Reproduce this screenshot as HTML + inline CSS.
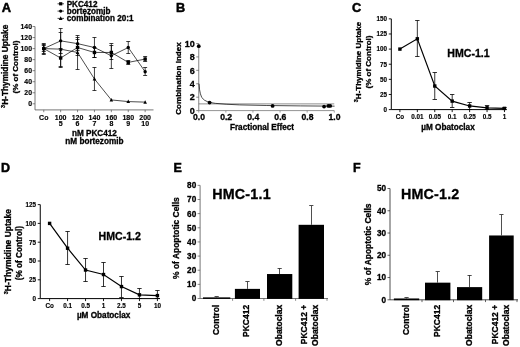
<!DOCTYPE html>
<html><head><meta charset="utf-8"><title>Figure</title>
<style>html,body{margin:0;padding:0;background:#fff;}svg{display:block;}text{font-family:"Liberation Sans", Arial, Helvetica, sans-serif;fill:#000;stroke:#000;stroke-width:0.3px;}</style>
</head><body>
<svg width="520" height="347" viewBox="0 0 520 347">
<rect width="520" height="347" fill="#fff"/>
<text x="1.70" y="11.80" font-size="12.9" text-anchor="start" font-weight="bold" style="stroke-width:0.5px">A</text>
<line x1="35.00" y1="26.52" x2="35.00" y2="109.90" stroke="#555" stroke-width="0.8"/>
<line x1="35.00" y1="109.90" x2="153.50" y2="109.90" stroke="#555" stroke-width="0.8"/>
<line x1="32.50" y1="103.80" x2="35.00" y2="103.80" stroke="#555" stroke-width="0.7"/>
<text x="32.00" y="106.40" font-size="6.9" text-anchor="end" font-weight="bold" style="stroke-width:0.15px">0</text>
<line x1="32.50" y1="92.76" x2="35.00" y2="92.76" stroke="#555" stroke-width="0.7"/>
<text x="32.00" y="95.36" font-size="6.9" text-anchor="end" font-weight="bold" style="stroke-width:0.15px">20</text>
<line x1="32.50" y1="81.72" x2="35.00" y2="81.72" stroke="#555" stroke-width="0.7"/>
<text x="32.00" y="84.32" font-size="6.9" text-anchor="end" font-weight="bold" style="stroke-width:0.15px">40</text>
<line x1="32.50" y1="70.68" x2="35.00" y2="70.68" stroke="#555" stroke-width="0.7"/>
<text x="32.00" y="73.28" font-size="6.9" text-anchor="end" font-weight="bold" style="stroke-width:0.15px">60</text>
<line x1="32.50" y1="59.64" x2="35.00" y2="59.64" stroke="#555" stroke-width="0.7"/>
<text x="32.00" y="62.24" font-size="6.9" text-anchor="end" font-weight="bold" style="stroke-width:0.15px">80</text>
<line x1="32.50" y1="48.60" x2="35.00" y2="48.60" stroke="#555" stroke-width="0.7"/>
<text x="32.00" y="51.20" font-size="6.9" text-anchor="end" font-weight="bold" style="stroke-width:0.15px">100</text>
<line x1="32.50" y1="37.56" x2="35.00" y2="37.56" stroke="#555" stroke-width="0.7"/>
<text x="32.00" y="40.16" font-size="6.9" text-anchor="end" font-weight="bold" style="stroke-width:0.15px">120</text>
<line x1="32.50" y1="26.52" x2="35.00" y2="26.52" stroke="#555" stroke-width="0.7"/>
<text x="32.00" y="29.12" font-size="6.9" text-anchor="end" font-weight="bold" style="stroke-width:0.15px">140</text>
<line x1="43.75" y1="109.90" x2="43.75" y2="112.20" stroke="#555" stroke-width="0.7"/>
<text x="43.75" y="120.00" font-size="7" text-anchor="middle" font-weight="bold" style="stroke-width:0.15px">Co</text>
<line x1="60.65" y1="109.90" x2="60.65" y2="112.20" stroke="#555" stroke-width="0.7"/>
<text x="60.65" y="120.00" font-size="7" text-anchor="middle" font-weight="bold" style="stroke-width:0.15px">100</text>
<text x="60.65" y="126.40" font-size="7" text-anchor="middle" font-weight="bold" style="stroke-width:0.15px">5</text>
<line x1="77.55" y1="109.90" x2="77.55" y2="112.20" stroke="#555" stroke-width="0.7"/>
<text x="77.55" y="120.00" font-size="7" text-anchor="middle" font-weight="bold" style="stroke-width:0.15px">120</text>
<text x="77.55" y="126.40" font-size="7" text-anchor="middle" font-weight="bold" style="stroke-width:0.15px">6</text>
<line x1="94.45" y1="109.90" x2="94.45" y2="112.20" stroke="#555" stroke-width="0.7"/>
<text x="94.45" y="120.00" font-size="7" text-anchor="middle" font-weight="bold" style="stroke-width:0.15px">140</text>
<text x="94.45" y="126.40" font-size="7" text-anchor="middle" font-weight="bold" style="stroke-width:0.15px">7</text>
<line x1="111.35" y1="109.90" x2="111.35" y2="112.20" stroke="#555" stroke-width="0.7"/>
<text x="111.35" y="120.00" font-size="7" text-anchor="middle" font-weight="bold" style="stroke-width:0.15px">160</text>
<text x="111.35" y="126.40" font-size="7" text-anchor="middle" font-weight="bold" style="stroke-width:0.15px">8</text>
<line x1="128.25" y1="109.90" x2="128.25" y2="112.20" stroke="#555" stroke-width="0.7"/>
<text x="128.25" y="120.00" font-size="7" text-anchor="middle" font-weight="bold" style="stroke-width:0.15px">180</text>
<text x="128.25" y="126.40" font-size="7" text-anchor="middle" font-weight="bold" style="stroke-width:0.15px">9</text>
<line x1="145.15" y1="109.90" x2="145.15" y2="112.20" stroke="#555" stroke-width="0.7"/>
<text x="145.15" y="120.00" font-size="7" text-anchor="middle" font-weight="bold" style="stroke-width:0.15px">200</text>
<text x="145.15" y="126.40" font-size="7" text-anchor="middle" font-weight="bold" style="stroke-width:0.15px">10</text>
<text x="94.40" y="136.20" font-size="8.2" text-anchor="middle" font-weight="bold">nM PKC412</text>
<text x="94.40" y="144.20" font-size="8.2" text-anchor="middle" font-weight="bold">nM bortezomib</text>
<text x="7.60" y="66.30" font-size="8.3" text-anchor="middle" font-weight="bold" transform="rotate(-90 7.60 66.30)"><tspan font-size="5.5" dy="-2.5">3</tspan><tspan dy="2.5">H-Thymidine Uptake</tspan></text>
<text x="17.50" y="67.00" font-size="8" text-anchor="middle" font-weight="bold" transform="rotate(-90 17.50 67.00)">(% of Control)</text>
<line x1="57.50" y1="3.80" x2="64.00" y2="3.80" stroke="#000" stroke-width="0.7"/>
<rect x="59.10" y="2.20" width="3.20" height="3.20" fill="#000"/>
<text x="66.70" y="6.70" font-size="8.15" text-anchor="start" font-weight="bold">PKC412</text>
<line x1="57.50" y1="11.10" x2="64.00" y2="11.10" stroke="#000" stroke-width="0.7"/>
<circle cx="60.70" cy="11.10" r="1.60" fill="#000"/>
<text x="66.70" y="14.00" font-size="8.15" text-anchor="start" font-weight="bold">bortezomib</text>
<line x1="57.50" y1="18.40" x2="64.00" y2="18.40" stroke="#000" stroke-width="0.7"/>
<polygon points="60.70,16.30 58.80,20.00 62.60,20.00" fill="#000"/>
<text x="66.70" y="21.30" font-size="8.15" text-anchor="start" font-weight="bold">combination 20:1</text>
<polyline fill="none" stroke="#000" stroke-width="0.7" points="43.75,48.60 60.65,57.98 77.55,47.50 94.45,52.46 111.35,52.46 128.25,62.40 145.15,59.09"/>
<line x1="43.75" y1="44.50" x2="43.75" y2="53.50" stroke="#000" stroke-width="0.75"/>
<line x1="41.75" y1="44.50" x2="45.75" y2="44.50" stroke="#000" stroke-width="0.75"/>
<line x1="41.75" y1="53.50" x2="45.75" y2="53.50" stroke="#000" stroke-width="0.75"/>
<rect x="42.05" y="46.90" width="3.40" height="3.40" fill="#000"/>
<line x1="60.65" y1="48.50" x2="60.65" y2="67.50" stroke="#000" stroke-width="0.75"/>
<line x1="58.65" y1="48.50" x2="62.65" y2="48.50" stroke="#000" stroke-width="0.75"/>
<line x1="58.65" y1="67.50" x2="62.65" y2="67.50" stroke="#000" stroke-width="0.75"/>
<rect x="58.95" y="56.28" width="3.40" height="3.40" fill="#000"/>
<line x1="77.55" y1="39.50" x2="77.55" y2="55.50" stroke="#000" stroke-width="0.75"/>
<line x1="75.55" y1="39.50" x2="79.55" y2="39.50" stroke="#000" stroke-width="0.75"/>
<line x1="75.55" y1="55.50" x2="79.55" y2="55.50" stroke="#000" stroke-width="0.75"/>
<rect x="75.85" y="45.80" width="3.40" height="3.40" fill="#000"/>
<line x1="94.45" y1="47.50" x2="94.45" y2="57.50" stroke="#000" stroke-width="0.75"/>
<line x1="92.45" y1="47.50" x2="96.45" y2="47.50" stroke="#000" stroke-width="0.75"/>
<line x1="92.45" y1="57.50" x2="96.45" y2="57.50" stroke="#000" stroke-width="0.75"/>
<rect x="92.75" y="50.76" width="3.40" height="3.40" fill="#000"/>
<line x1="111.35" y1="45.50" x2="111.35" y2="59.50" stroke="#000" stroke-width="0.75"/>
<line x1="109.35" y1="45.50" x2="113.35" y2="45.50" stroke="#000" stroke-width="0.75"/>
<line x1="109.35" y1="59.50" x2="113.35" y2="59.50" stroke="#000" stroke-width="0.75"/>
<rect x="109.65" y="50.76" width="3.40" height="3.40" fill="#000"/>
<line x1="128.25" y1="60.50" x2="128.25" y2="64.50" stroke="#000" stroke-width="0.75"/>
<line x1="126.25" y1="60.50" x2="130.25" y2="60.50" stroke="#000" stroke-width="0.75"/>
<line x1="126.25" y1="64.50" x2="130.25" y2="64.50" stroke="#000" stroke-width="0.75"/>
<rect x="126.55" y="60.70" width="3.40" height="3.40" fill="#000"/>
<line x1="145.15" y1="56.50" x2="145.15" y2="61.50" stroke="#000" stroke-width="0.75"/>
<line x1="143.15" y1="56.50" x2="147.15" y2="56.50" stroke="#000" stroke-width="0.75"/>
<line x1="143.15" y1="61.50" x2="147.15" y2="61.50" stroke="#000" stroke-width="0.75"/>
<rect x="143.45" y="57.39" width="3.40" height="3.40" fill="#000"/>
<polyline fill="none" stroke="#000" stroke-width="0.7" points="43.75,48.60 60.65,40.87 77.55,43.63 94.45,47.50 111.35,55.78 128.25,47.50 145.15,71.78"/>
<line x1="43.75" y1="43.50" x2="43.75" y2="54.50" stroke="#000" stroke-width="0.75"/>
<line x1="41.75" y1="43.50" x2="45.75" y2="43.50" stroke="#000" stroke-width="0.75"/>
<line x1="41.75" y1="54.50" x2="45.75" y2="54.50" stroke="#000" stroke-width="0.75"/>
<circle cx="43.75" cy="48.60" r="1.70" fill="#000"/>
<line x1="60.65" y1="28.50" x2="60.65" y2="53.50" stroke="#000" stroke-width="0.75"/>
<line x1="58.65" y1="28.50" x2="62.65" y2="28.50" stroke="#000" stroke-width="0.75"/>
<line x1="58.65" y1="53.50" x2="62.65" y2="53.50" stroke="#000" stroke-width="0.75"/>
<circle cx="60.65" cy="40.87" r="1.70" fill="#000"/>
<line x1="77.55" y1="37.50" x2="77.55" y2="50.50" stroke="#000" stroke-width="0.75"/>
<line x1="75.55" y1="37.50" x2="79.55" y2="37.50" stroke="#000" stroke-width="0.75"/>
<line x1="75.55" y1="50.50" x2="79.55" y2="50.50" stroke="#000" stroke-width="0.75"/>
<circle cx="77.55" cy="43.63" r="1.70" fill="#000"/>
<line x1="94.45" y1="37.50" x2="94.45" y2="57.50" stroke="#000" stroke-width="0.75"/>
<line x1="92.45" y1="37.50" x2="96.45" y2="37.50" stroke="#000" stroke-width="0.75"/>
<line x1="92.45" y1="57.50" x2="96.45" y2="57.50" stroke="#000" stroke-width="0.75"/>
<circle cx="94.45" cy="47.50" r="1.70" fill="#000"/>
<line x1="111.35" y1="43.50" x2="111.35" y2="68.50" stroke="#000" stroke-width="0.75"/>
<line x1="109.35" y1="43.50" x2="113.35" y2="43.50" stroke="#000" stroke-width="0.75"/>
<line x1="109.35" y1="68.50" x2="113.35" y2="68.50" stroke="#000" stroke-width="0.75"/>
<circle cx="111.35" cy="55.78" r="1.70" fill="#000"/>
<line x1="128.25" y1="41.50" x2="128.25" y2="53.50" stroke="#000" stroke-width="0.75"/>
<line x1="126.25" y1="41.50" x2="130.25" y2="41.50" stroke="#000" stroke-width="0.75"/>
<line x1="126.25" y1="53.50" x2="130.25" y2="53.50" stroke="#000" stroke-width="0.75"/>
<circle cx="128.25" cy="47.50" r="1.70" fill="#000"/>
<line x1="145.15" y1="67.50" x2="145.15" y2="75.50" stroke="#000" stroke-width="0.75"/>
<line x1="143.15" y1="67.50" x2="147.15" y2="67.50" stroke="#000" stroke-width="0.75"/>
<line x1="143.15" y1="75.50" x2="147.15" y2="75.50" stroke="#000" stroke-width="0.75"/>
<circle cx="145.15" cy="71.78" r="1.70" fill="#000"/>
<polyline fill="none" stroke="#000" stroke-width="0.7" points="43.75,48.60 60.65,49.15 77.55,52.46 94.45,78.96 111.35,99.94 128.25,101.59 145.15,102.14"/>
<line x1="43.75" y1="45.50" x2="43.75" y2="51.50" stroke="#000" stroke-width="0.75"/>
<line x1="41.75" y1="45.50" x2="45.75" y2="45.50" stroke="#000" stroke-width="0.75"/>
<line x1="41.75" y1="51.50" x2="45.75" y2="51.50" stroke="#000" stroke-width="0.75"/>
<polygon points="43.75,46.60 41.95,50.10 45.55,50.10" fill="#000"/>
<line x1="60.65" y1="32.50" x2="60.65" y2="66.50" stroke="#000" stroke-width="0.75"/>
<line x1="58.65" y1="32.50" x2="62.65" y2="32.50" stroke="#000" stroke-width="0.75"/>
<line x1="58.65" y1="66.50" x2="62.65" y2="66.50" stroke="#000" stroke-width="0.75"/>
<polygon points="60.65,47.15 58.85,50.65 62.45,50.65" fill="#000"/>
<line x1="77.55" y1="35.50" x2="77.55" y2="69.50" stroke="#000" stroke-width="0.75"/>
<line x1="75.55" y1="35.50" x2="79.55" y2="35.50" stroke="#000" stroke-width="0.75"/>
<line x1="75.55" y1="69.50" x2="79.55" y2="69.50" stroke="#000" stroke-width="0.75"/>
<polygon points="77.55,50.46 75.75,53.96 79.35,53.96" fill="#000"/>
<line x1="94.45" y1="67.50" x2="94.45" y2="90.50" stroke="#000" stroke-width="0.75"/>
<line x1="92.45" y1="67.50" x2="96.45" y2="67.50" stroke="#000" stroke-width="0.75"/>
<line x1="92.45" y1="90.50" x2="96.45" y2="90.50" stroke="#000" stroke-width="0.75"/>
<polygon points="94.45,76.96 92.65,80.46 96.25,80.46" fill="#000"/>
<polygon points="111.35,97.94 109.55,101.44 113.15,101.44" fill="#000"/>
<polygon points="128.25,99.59 126.45,103.09 130.05,103.09" fill="#000"/>
<polygon points="145.15,100.14 143.35,103.64 146.95,103.64" fill="#000"/>
<text x="176.00" y="11.80" font-size="12.7" text-anchor="start" font-weight="bold" style="stroke-width:0.5px">B</text>
<line x1="198.75" y1="43.50" x2="198.75" y2="110.60" stroke="#666" stroke-width="0.8"/>
<line x1="198.75" y1="110.60" x2="334.25" y2="110.60" stroke="#777" stroke-width="0.8"/>
<line x1="196.25" y1="110.60" x2="198.75" y2="110.60" stroke="#555" stroke-width="0.7"/>
<text x="194.75" y="113.80" font-size="9" text-anchor="end" font-weight="bold">0</text>
<line x1="196.25" y1="97.18" x2="198.75" y2="97.18" stroke="#555" stroke-width="0.7"/>
<text x="194.75" y="100.38" font-size="9" text-anchor="end" font-weight="bold">2</text>
<line x1="196.25" y1="83.76" x2="198.75" y2="83.76" stroke="#555" stroke-width="0.7"/>
<text x="194.75" y="86.96" font-size="9" text-anchor="end" font-weight="bold">4</text>
<line x1="196.25" y1="70.34" x2="198.75" y2="70.34" stroke="#555" stroke-width="0.7"/>
<text x="194.75" y="73.54" font-size="9" text-anchor="end" font-weight="bold">6</text>
<line x1="196.25" y1="56.92" x2="198.75" y2="56.92" stroke="#555" stroke-width="0.7"/>
<text x="194.75" y="60.12" font-size="9" text-anchor="end" font-weight="bold">8</text>
<line x1="196.25" y1="43.50" x2="198.75" y2="43.50" stroke="#555" stroke-width="0.7"/>
<text x="194.75" y="46.70" font-size="9" text-anchor="end" font-weight="bold">10</text>
<line x1="198.75" y1="110.60" x2="198.75" y2="112.60" stroke="#777" stroke-width="0.7"/>
<text x="199.05" y="120.20" font-size="8.6" text-anchor="middle" font-weight="bold">0.0</text>
<line x1="225.85" y1="110.60" x2="225.85" y2="112.60" stroke="#777" stroke-width="0.7"/>
<text x="226.15" y="120.20" font-size="8.6" text-anchor="middle" font-weight="bold">0.2</text>
<line x1="252.95" y1="110.60" x2="252.95" y2="112.60" stroke="#777" stroke-width="0.7"/>
<text x="253.25" y="120.20" font-size="8.6" text-anchor="middle" font-weight="bold">0.4</text>
<line x1="280.05" y1="110.60" x2="280.05" y2="112.60" stroke="#777" stroke-width="0.7"/>
<text x="280.35" y="120.20" font-size="8.6" text-anchor="middle" font-weight="bold">0.6</text>
<line x1="307.15" y1="110.60" x2="307.15" y2="112.60" stroke="#777" stroke-width="0.7"/>
<text x="307.45" y="120.20" font-size="8.6" text-anchor="middle" font-weight="bold">0.8</text>
<line x1="334.25" y1="110.60" x2="334.25" y2="112.60" stroke="#777" stroke-width="0.7"/>
<text x="334.55" y="120.20" font-size="8.6" text-anchor="middle" font-weight="bold">1.0</text>
<text x="262.00" y="130.00" font-size="8.2" text-anchor="middle" font-weight="bold">Fractional Effect</text>
<text x="181.00" y="78.50" font-size="8.05" text-anchor="middle" font-weight="bold" transform="rotate(-90 181.00 78.50)">Combination Index</text>
<line x1="198.75" y1="103.89" x2="334.25" y2="103.89" stroke="#444" stroke-width="0.6"/>
<polyline fill="none" stroke="#000" stroke-width="0.7" points="199.05,83.76 199.59,89.80 200.41,93.82 201.76,97.52 204.47,100.20 207.18,101.54 209.89,102.41 215.31,103.35 226.15,104.23 239.70,104.90 266.80,105.50 300.68,105.90 334.55,106.17"/>
<circle cx="198.75" cy="46.18" r="1.90" fill="#000"/>
<circle cx="209.59" cy="102.55" r="1.90" fill="#000"/>
<circle cx="272.60" cy="105.90" r="1.90" fill="#000"/>
<circle cx="324.09" cy="106.57" r="1.90" fill="#000"/>
<circle cx="328.29" cy="105.90" r="1.90" fill="#000"/>
<circle cx="330.19" cy="105.90" r="1.90" fill="#000"/>
<text x="352.00" y="11.80" font-size="12.7" text-anchor="start" font-weight="bold" style="stroke-width:0.5px">C</text>
<line x1="391.30" y1="18.85" x2="391.30" y2="109.60" stroke="#000" stroke-width="1"/>
<line x1="391.30" y1="109.60" x2="506.50" y2="109.60" stroke="#000" stroke-width="1"/>
<line x1="388.80" y1="109.60" x2="391.30" y2="109.60" stroke="#000" stroke-width="0.9"/>
<text x="387.00" y="111.90" font-size="6.3" text-anchor="end" font-weight="bold" style="stroke-width:0.15px">0</text>
<line x1="388.80" y1="94.47" x2="391.30" y2="94.47" stroke="#000" stroke-width="0.9"/>
<text x="387.00" y="96.77" font-size="6.3" text-anchor="end" font-weight="bold" style="stroke-width:0.15px">25</text>
<line x1="388.80" y1="79.35" x2="391.30" y2="79.35" stroke="#000" stroke-width="0.9"/>
<text x="387.00" y="81.65" font-size="6.3" text-anchor="end" font-weight="bold" style="stroke-width:0.15px">50</text>
<line x1="388.80" y1="64.22" x2="391.30" y2="64.22" stroke="#000" stroke-width="0.9"/>
<text x="387.00" y="66.52" font-size="6.3" text-anchor="end" font-weight="bold" style="stroke-width:0.15px">75</text>
<line x1="388.80" y1="49.10" x2="391.30" y2="49.10" stroke="#000" stroke-width="0.9"/>
<text x="387.00" y="51.40" font-size="6.3" text-anchor="end" font-weight="bold" style="stroke-width:0.15px">100</text>
<line x1="388.80" y1="33.97" x2="391.30" y2="33.97" stroke="#000" stroke-width="0.9"/>
<text x="387.00" y="36.27" font-size="6.3" text-anchor="end" font-weight="bold" style="stroke-width:0.15px">125</text>
<line x1="388.80" y1="18.85" x2="391.30" y2="18.85" stroke="#000" stroke-width="0.9"/>
<text x="387.00" y="21.15" font-size="6.3" text-anchor="end" font-weight="bold" style="stroke-width:0.15px">150</text>
<line x1="399.90" y1="109.60" x2="399.90" y2="112.10" stroke="#000" stroke-width="0.9"/>
<text x="399.90" y="119.40" font-size="6.3" text-anchor="middle" font-weight="bold" style="stroke-width:0.15px">Co</text>
<line x1="417.33" y1="109.60" x2="417.33" y2="112.10" stroke="#000" stroke-width="0.9"/>
<text x="417.33" y="119.40" font-size="6.3" text-anchor="middle" font-weight="bold" style="stroke-width:0.15px">0.01</text>
<line x1="434.76" y1="109.60" x2="434.76" y2="112.10" stroke="#000" stroke-width="0.9"/>
<text x="434.76" y="119.40" font-size="6.3" text-anchor="middle" font-weight="bold" style="stroke-width:0.15px">0.05</text>
<line x1="452.19" y1="109.60" x2="452.19" y2="112.10" stroke="#000" stroke-width="0.9"/>
<text x="452.19" y="119.40" font-size="6.3" text-anchor="middle" font-weight="bold" style="stroke-width:0.15px">0.1</text>
<line x1="469.62" y1="109.60" x2="469.62" y2="112.10" stroke="#000" stroke-width="0.9"/>
<text x="469.62" y="119.40" font-size="6.3" text-anchor="middle" font-weight="bold" style="stroke-width:0.15px">0.25</text>
<line x1="487.05" y1="109.60" x2="487.05" y2="112.10" stroke="#000" stroke-width="0.9"/>
<text x="487.05" y="119.40" font-size="6.3" text-anchor="middle" font-weight="bold" style="stroke-width:0.15px">0.5</text>
<line x1="504.48" y1="109.60" x2="504.48" y2="112.10" stroke="#000" stroke-width="0.9"/>
<text x="504.48" y="119.40" font-size="6.3" text-anchor="middle" font-weight="bold" style="stroke-width:0.15px">1</text>
<text x="448.00" y="130.00" font-size="8.2" text-anchor="middle" font-weight="bold">µM Obatoclax</text>
<text x="360.50" y="62.00" font-size="8" text-anchor="middle" font-weight="bold" transform="rotate(-90 360.50 62.00)"><tspan font-size="5.5" dy="-2.5">3</tspan><tspan dy="2.5">H-Thymidine Uptake</tspan></text>
<text x="370.50" y="62.00" font-size="8" text-anchor="middle" font-weight="bold" transform="rotate(-90 370.50 62.00)">(% of Control)</text>
<text x="468.50" y="57.20" font-size="10.6" text-anchor="middle" font-weight="bold">HMC-1.1</text>
<polyline fill="none" stroke="#000" stroke-width="1.2" points="399.90,49.10 417.33,38.81 434.76,86.00 452.19,101.13 469.62,105.97 487.05,107.78 504.48,108.39"/>
<rect x="398.20" y="47.40" width="3.40" height="3.40" fill="#000"/>
<line x1="417.33" y1="20.50" x2="417.33" y2="56.50" stroke="#000" stroke-width="0.8"/>
<line x1="415.13" y1="20.50" x2="419.53" y2="20.50" stroke="#000" stroke-width="0.8"/>
<line x1="415.13" y1="56.50" x2="419.53" y2="56.50" stroke="#000" stroke-width="0.8"/>
<rect x="415.63" y="37.11" width="3.40" height="3.40" fill="#000"/>
<line x1="434.76" y1="72.50" x2="434.76" y2="99.50" stroke="#000" stroke-width="0.8"/>
<line x1="432.56" y1="72.50" x2="436.96" y2="72.50" stroke="#000" stroke-width="0.8"/>
<line x1="432.56" y1="99.50" x2="436.96" y2="99.50" stroke="#000" stroke-width="0.8"/>
<rect x="433.06" y="84.30" width="3.40" height="3.40" fill="#000"/>
<line x1="452.19" y1="94.50" x2="452.19" y2="107.50" stroke="#000" stroke-width="0.8"/>
<line x1="449.99" y1="94.50" x2="454.39" y2="94.50" stroke="#000" stroke-width="0.8"/>
<line x1="449.99" y1="107.50" x2="454.39" y2="107.50" stroke="#000" stroke-width="0.8"/>
<rect x="450.49" y="99.43" width="3.40" height="3.40" fill="#000"/>
<line x1="469.62" y1="102.50" x2="469.62" y2="109.50" stroke="#000" stroke-width="0.8"/>
<line x1="467.42" y1="102.50" x2="471.82" y2="102.50" stroke="#000" stroke-width="0.8"/>
<line x1="467.42" y1="109.50" x2="471.82" y2="109.50" stroke="#000" stroke-width="0.8"/>
<rect x="467.92" y="104.27" width="3.40" height="3.40" fill="#000"/>
<line x1="487.05" y1="105.50" x2="487.05" y2="109.50" stroke="#000" stroke-width="0.8"/>
<line x1="484.85" y1="105.50" x2="489.25" y2="105.50" stroke="#000" stroke-width="0.8"/>
<line x1="484.85" y1="109.50" x2="489.25" y2="109.50" stroke="#000" stroke-width="0.8"/>
<rect x="485.35" y="106.08" width="3.40" height="3.40" fill="#000"/>
<line x1="504.48" y1="107.50" x2="504.48" y2="109.50" stroke="#000" stroke-width="0.8"/>
<line x1="502.28" y1="107.50" x2="506.68" y2="107.50" stroke="#000" stroke-width="0.8"/>
<line x1="502.28" y1="109.50" x2="506.68" y2="109.50" stroke="#000" stroke-width="0.8"/>
<rect x="502.78" y="106.69" width="3.40" height="3.40" fill="#000"/>
<text x="1.00" y="171.70" font-size="12.5" text-anchor="start" font-weight="bold" style="stroke-width:0.5px">D</text>
<line x1="40.25" y1="204.60" x2="40.25" y2="298.60" stroke="#000" stroke-width="1"/>
<line x1="40.25" y1="298.60" x2="160.00" y2="298.60" stroke="#000" stroke-width="1"/>
<line x1="37.75" y1="298.60" x2="40.25" y2="298.60" stroke="#000" stroke-width="0.9"/>
<text x="36.05" y="300.90" font-size="6.3" text-anchor="end" font-weight="bold" style="stroke-width:0.15px">0</text>
<line x1="37.75" y1="279.80" x2="40.25" y2="279.80" stroke="#000" stroke-width="0.9"/>
<text x="36.05" y="282.10" font-size="6.3" text-anchor="end" font-weight="bold" style="stroke-width:0.15px">25</text>
<line x1="37.75" y1="261.00" x2="40.25" y2="261.00" stroke="#000" stroke-width="0.9"/>
<text x="36.05" y="263.30" font-size="6.3" text-anchor="end" font-weight="bold" style="stroke-width:0.15px">50</text>
<line x1="37.75" y1="242.20" x2="40.25" y2="242.20" stroke="#000" stroke-width="0.9"/>
<text x="36.05" y="244.50" font-size="6.3" text-anchor="end" font-weight="bold" style="stroke-width:0.15px">75</text>
<line x1="37.75" y1="223.40" x2="40.25" y2="223.40" stroke="#000" stroke-width="0.9"/>
<text x="36.05" y="225.70" font-size="6.3" text-anchor="end" font-weight="bold" style="stroke-width:0.15px">100</text>
<line x1="37.75" y1="204.60" x2="40.25" y2="204.60" stroke="#000" stroke-width="0.9"/>
<text x="36.05" y="206.90" font-size="6.3" text-anchor="end" font-weight="bold" style="stroke-width:0.15px">125</text>
<line x1="49.60" y1="298.60" x2="49.60" y2="301.10" stroke="#000" stroke-width="0.9"/>
<text x="49.60" y="308.40" font-size="6.3" text-anchor="middle" font-weight="bold" style="stroke-width:0.15px">Co</text>
<line x1="67.57" y1="298.60" x2="67.57" y2="301.10" stroke="#000" stroke-width="0.9"/>
<text x="67.57" y="308.40" font-size="6.3" text-anchor="middle" font-weight="bold" style="stroke-width:0.15px">0.1</text>
<line x1="85.54" y1="298.60" x2="85.54" y2="301.10" stroke="#000" stroke-width="0.9"/>
<text x="85.54" y="308.40" font-size="6.3" text-anchor="middle" font-weight="bold" style="stroke-width:0.15px">0.5</text>
<line x1="103.51" y1="298.60" x2="103.51" y2="301.10" stroke="#000" stroke-width="0.9"/>
<text x="103.51" y="308.40" font-size="6.3" text-anchor="middle" font-weight="bold" style="stroke-width:0.15px">1</text>
<line x1="121.48" y1="298.60" x2="121.48" y2="301.10" stroke="#000" stroke-width="0.9"/>
<text x="121.48" y="308.40" font-size="6.3" text-anchor="middle" font-weight="bold" style="stroke-width:0.15px">2.5</text>
<line x1="139.45" y1="298.60" x2="139.45" y2="301.10" stroke="#000" stroke-width="0.9"/>
<text x="139.45" y="308.40" font-size="6.3" text-anchor="middle" font-weight="bold" style="stroke-width:0.15px">5</text>
<line x1="157.42" y1="298.60" x2="157.42" y2="301.10" stroke="#000" stroke-width="0.9"/>
<text x="157.42" y="308.40" font-size="6.3" text-anchor="middle" font-weight="bold" style="stroke-width:0.15px">10</text>
<text x="103.60" y="318.40" font-size="8.2" text-anchor="middle" font-weight="bold">µM Obatoclax</text>
<text x="10.90" y="251.60" font-size="8.5" text-anchor="middle" font-weight="bold" transform="rotate(-90 10.90 251.60)"><tspan font-size="5.5" dy="-2.5">3</tspan><tspan dy="2.5">H-Thymidine Uptake</tspan></text>
<text x="22.00" y="253.10" font-size="8.2" text-anchor="middle" font-weight="bold" transform="rotate(-90 22.00 253.10)">(% of Control)</text>
<text x="119.70" y="240.20" font-size="10.6" text-anchor="middle" font-weight="bold">HMC-1.2</text>
<polyline fill="none" stroke="#000" stroke-width="1.2" points="49.60,223.40 67.57,248.22 85.54,270.02 103.51,274.54 121.48,286.57 139.45,294.84 157.42,295.59"/>
<rect x="47.90" y="221.70" width="3.40" height="3.40" fill="#000"/>
<line x1="67.57" y1="231.50" x2="67.57" y2="264.50" stroke="#000" stroke-width="0.8"/>
<line x1="65.37" y1="231.50" x2="69.77" y2="231.50" stroke="#000" stroke-width="0.8"/>
<line x1="65.37" y1="264.50" x2="69.77" y2="264.50" stroke="#000" stroke-width="0.8"/>
<rect x="65.87" y="246.52" width="3.40" height="3.40" fill="#000"/>
<line x1="85.54" y1="258.50" x2="85.54" y2="281.50" stroke="#000" stroke-width="0.8"/>
<line x1="83.34" y1="258.50" x2="87.74" y2="258.50" stroke="#000" stroke-width="0.8"/>
<line x1="83.34" y1="281.50" x2="87.74" y2="281.50" stroke="#000" stroke-width="0.8"/>
<rect x="83.84" y="268.32" width="3.40" height="3.40" fill="#000"/>
<line x1="103.51" y1="262.50" x2="103.51" y2="286.50" stroke="#000" stroke-width="0.8"/>
<line x1="101.31" y1="262.50" x2="105.71" y2="262.50" stroke="#000" stroke-width="0.8"/>
<line x1="101.31" y1="286.50" x2="105.71" y2="286.50" stroke="#000" stroke-width="0.8"/>
<rect x="101.81" y="272.84" width="3.40" height="3.40" fill="#000"/>
<line x1="121.48" y1="276.50" x2="121.48" y2="297.50" stroke="#000" stroke-width="0.8"/>
<line x1="119.28" y1="276.50" x2="123.68" y2="276.50" stroke="#000" stroke-width="0.8"/>
<line x1="119.28" y1="297.50" x2="123.68" y2="297.50" stroke="#000" stroke-width="0.8"/>
<rect x="119.78" y="284.87" width="3.40" height="3.40" fill="#000"/>
<line x1="139.45" y1="288.50" x2="139.45" y2="298.50" stroke="#000" stroke-width="0.8"/>
<line x1="137.25" y1="288.50" x2="141.65" y2="288.50" stroke="#000" stroke-width="0.8"/>
<line x1="137.25" y1="298.50" x2="141.65" y2="298.50" stroke="#000" stroke-width="0.8"/>
<rect x="137.75" y="293.14" width="3.40" height="3.40" fill="#000"/>
<line x1="157.42" y1="290.50" x2="157.42" y2="298.50" stroke="#000" stroke-width="0.8"/>
<line x1="155.22" y1="290.50" x2="159.62" y2="290.50" stroke="#000" stroke-width="0.8"/>
<line x1="155.22" y1="298.50" x2="159.62" y2="298.50" stroke="#000" stroke-width="0.8"/>
<rect x="155.72" y="293.89" width="3.40" height="3.40" fill="#000"/>
<text x="173.60" y="171.80" font-size="12.5" text-anchor="start" font-weight="bold" style="stroke-width:0.5px">E</text>
<line x1="200.10" y1="185.36" x2="200.10" y2="298.50" stroke="#555" stroke-width="0.8"/>
<line x1="200.10" y1="298.50" x2="328.00" y2="298.50" stroke="#555" stroke-width="0.8"/>
<line x1="197.60" y1="298.50" x2="200.10" y2="298.50" stroke="#555" stroke-width="0.7"/>
<text x="196.20" y="301.40" font-size="8.2" text-anchor="end" font-weight="bold">0</text>
<line x1="197.60" y1="284.36" x2="200.10" y2="284.36" stroke="#555" stroke-width="0.7"/>
<text x="196.20" y="287.26" font-size="8.2" text-anchor="end" font-weight="bold">10</text>
<line x1="197.60" y1="270.21" x2="200.10" y2="270.21" stroke="#555" stroke-width="0.7"/>
<text x="196.20" y="273.11" font-size="8.2" text-anchor="end" font-weight="bold">20</text>
<line x1="197.60" y1="256.07" x2="200.10" y2="256.07" stroke="#555" stroke-width="0.7"/>
<text x="196.20" y="258.97" font-size="8.2" text-anchor="end" font-weight="bold">30</text>
<line x1="197.60" y1="241.93" x2="200.10" y2="241.93" stroke="#555" stroke-width="0.7"/>
<text x="196.20" y="244.83" font-size="8.2" text-anchor="end" font-weight="bold">40</text>
<line x1="197.60" y1="227.79" x2="200.10" y2="227.79" stroke="#555" stroke-width="0.7"/>
<text x="196.20" y="230.69" font-size="8.2" text-anchor="end" font-weight="bold">50</text>
<line x1="197.60" y1="213.64" x2="200.10" y2="213.64" stroke="#555" stroke-width="0.7"/>
<text x="196.20" y="216.54" font-size="8.2" text-anchor="end" font-weight="bold">60</text>
<line x1="197.60" y1="199.50" x2="200.10" y2="199.50" stroke="#555" stroke-width="0.7"/>
<text x="196.20" y="202.40" font-size="8.2" text-anchor="end" font-weight="bold">70</text>
<line x1="197.60" y1="185.36" x2="200.10" y2="185.36" stroke="#555" stroke-width="0.7"/>
<text x="196.20" y="188.26" font-size="8.2" text-anchor="end" font-weight="bold">80</text>
<line x1="232.60" y1="298.50" x2="232.60" y2="300.80" stroke="#555" stroke-width="0.7"/>
<line x1="263.90" y1="298.50" x2="263.90" y2="300.80" stroke="#555" stroke-width="0.7"/>
<line x1="295.60" y1="298.50" x2="295.60" y2="300.80" stroke="#555" stroke-width="0.7"/>
<line x1="327.00" y1="298.50" x2="327.00" y2="300.80" stroke="#555" stroke-width="0.7"/>
<rect x="203.00" y="297.37" width="27.30" height="1.53" fill="#000"/>
<line x1="216.50" y1="296.94" x2="216.50" y2="297.37" stroke="#222" stroke-width="0.8"/>
<line x1="214.55" y1="296.50" x2="218.75" y2="296.50" stroke="#222" stroke-width="0.8"/>
<text x="219.35" y="304.80" font-size="8.5" text-anchor="end" font-weight="bold" transform="rotate(-90 219.35 304.80)">Control</text>
<rect x="234.90" y="288.88" width="25.10" height="10.02" fill="#000"/>
<line x1="247.50" y1="281.81" x2="247.50" y2="288.88" stroke="#222" stroke-width="0.8"/>
<line x1="245.35" y1="281.50" x2="249.55" y2="281.50" stroke="#222" stroke-width="0.8"/>
<text x="249.15" y="304.80" font-size="8.5" text-anchor="end" font-weight="bold" transform="rotate(-90 249.15 304.80)">PKC412</text>
<rect x="267.00" y="274.03" width="25.30" height="24.87" fill="#000"/>
<line x1="279.50" y1="268.38" x2="279.50" y2="274.03" stroke="#222" stroke-width="0.8"/>
<line x1="277.55" y1="268.50" x2="281.75" y2="268.50" stroke="#222" stroke-width="0.8"/>
<text x="281.75" y="304.80" font-size="8.5" text-anchor="end" font-weight="bold" transform="rotate(-90 281.75 304.80)">Obatoclax</text>
<rect x="298.60" y="224.81" width="25.40" height="74.09" fill="#000"/>
<line x1="311.50" y1="205.86" x2="311.50" y2="224.81" stroke="#222" stroke-width="0.8"/>
<line x1="309.20" y1="205.50" x2="313.40" y2="205.50" stroke="#222" stroke-width="0.8"/>
<text x="307.10" y="304.80" font-size="8.5" text-anchor="end" font-weight="bold" transform="rotate(-90 307.10 304.80)">PKC412 +</text>
<text x="317.90" y="304.80" font-size="8.5" text-anchor="end" font-weight="bold" transform="rotate(-90 317.90 304.80)">Obatoclax</text>
<text x="241.50" y="199.10" font-size="14.3" text-anchor="middle" font-weight="bold" letter-spacing="0.2">HMC-1.1</text>
<text x="179.30" y="238.10" font-size="8.45" text-anchor="middle" font-weight="bold" transform="rotate(-90 179.30 238.10)">% of Apoptotic Cells</text>
<text x="353.00" y="171.80" font-size="12.5" text-anchor="start" font-weight="bold" style="stroke-width:0.5px">F</text>
<line x1="390.00" y1="188.50" x2="390.00" y2="299.80" stroke="#222" stroke-width="0.8"/>
<line x1="390.00" y1="299.80" x2="518.00" y2="299.80" stroke="#222" stroke-width="0.8"/>
<line x1="387.50" y1="299.80" x2="390.00" y2="299.80" stroke="#222" stroke-width="0.7"/>
<text x="386.00" y="302.70" font-size="8.2" text-anchor="end" font-weight="bold">0</text>
<line x1="387.50" y1="277.54" x2="390.00" y2="277.54" stroke="#222" stroke-width="0.7"/>
<text x="386.00" y="280.44" font-size="8.2" text-anchor="end" font-weight="bold">10</text>
<line x1="387.50" y1="255.28" x2="390.00" y2="255.28" stroke="#222" stroke-width="0.7"/>
<text x="386.00" y="258.18" font-size="8.2" text-anchor="end" font-weight="bold">20</text>
<line x1="387.50" y1="233.02" x2="390.00" y2="233.02" stroke="#222" stroke-width="0.7"/>
<text x="386.00" y="235.92" font-size="8.2" text-anchor="end" font-weight="bold">30</text>
<line x1="387.50" y1="210.76" x2="390.00" y2="210.76" stroke="#222" stroke-width="0.7"/>
<text x="386.00" y="213.66" font-size="8.2" text-anchor="end" font-weight="bold">40</text>
<line x1="387.50" y1="188.50" x2="390.00" y2="188.50" stroke="#222" stroke-width="0.7"/>
<text x="386.00" y="191.40" font-size="8.2" text-anchor="end" font-weight="bold">50</text>
<line x1="422.00" y1="299.80" x2="422.00" y2="302.10" stroke="#222" stroke-width="0.7"/>
<line x1="453.50" y1="299.80" x2="453.50" y2="302.10" stroke="#222" stroke-width="0.7"/>
<line x1="485.50" y1="299.80" x2="485.50" y2="302.10" stroke="#222" stroke-width="0.7"/>
<line x1="517.00" y1="299.80" x2="517.00" y2="302.10" stroke="#222" stroke-width="0.7"/>
<rect x="393.90" y="298.46" width="25.30" height="1.74" fill="#000"/>
<line x1="406.50" y1="297.80" x2="406.50" y2="298.46" stroke="#222" stroke-width="0.8"/>
<line x1="404.45" y1="297.50" x2="408.65" y2="297.50" stroke="#222" stroke-width="0.8"/>
<text x="409.25" y="304.80" font-size="8.5" text-anchor="end" font-weight="bold" transform="rotate(-90 409.25 304.80)">Control</text>
<rect x="425.00" y="282.66" width="25.40" height="17.54" fill="#000"/>
<line x1="437.50" y1="271.75" x2="437.50" y2="282.66" stroke="#222" stroke-width="0.8"/>
<line x1="435.60" y1="271.50" x2="439.80" y2="271.50" stroke="#222" stroke-width="0.8"/>
<text x="440.40" y="304.80" font-size="8.5" text-anchor="end" font-weight="bold" transform="rotate(-90 440.40 304.80)">PKC412</text>
<rect x="457.00" y="287.11" width="25.20" height="13.09" fill="#000"/>
<line x1="469.50" y1="275.09" x2="469.50" y2="287.11" stroke="#222" stroke-width="0.8"/>
<line x1="467.50" y1="275.50" x2="471.70" y2="275.50" stroke="#222" stroke-width="0.8"/>
<text x="472.30" y="304.80" font-size="8.5" text-anchor="end" font-weight="bold" transform="rotate(-90 472.30 304.80)">Obatoclax</text>
<rect x="489.10" y="235.47" width="24.60" height="64.73" fill="#000"/>
<line x1="501.50" y1="214.77" x2="501.50" y2="235.47" stroke="#222" stroke-width="0.8"/>
<line x1="499.30" y1="214.50" x2="503.50" y2="214.50" stroke="#222" stroke-width="0.8"/>
<text x="498.20" y="304.80" font-size="8.5" text-anchor="end" font-weight="bold" transform="rotate(-90 498.20 304.80)">PKC412 +</text>
<text x="509.00" y="304.80" font-size="8.5" text-anchor="end" font-weight="bold" transform="rotate(-90 509.00 304.80)">Obatoclax</text>
<text x="430.20" y="199.10" font-size="14.3" text-anchor="middle" font-weight="bold" letter-spacing="0.2">HMC-1.2</text>
<text x="371.50" y="244.30" font-size="8.45" text-anchor="middle" font-weight="bold" transform="rotate(-90 371.50 244.30)">% of Apoptotic Cells</text>
</svg>
</body></html>
